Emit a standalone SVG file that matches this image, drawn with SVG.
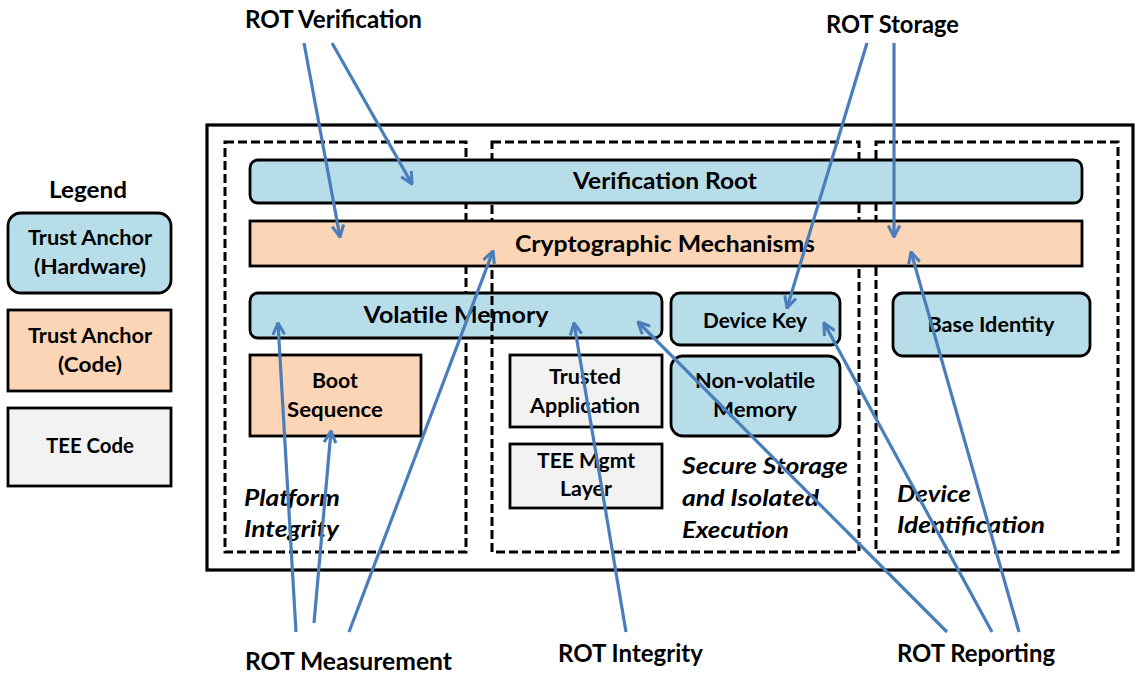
<svg xmlns="http://www.w3.org/2000/svg" width="1136" height="675" viewBox="0 0 1136 675">
  <defs>
    <style>
      .hw { fill: #B7DDE8; stroke: #000; stroke-width: 2.8; }
      .code { fill: #FBD5B5; stroke: #000; stroke-width: 2.8; }
      .tee { fill: #F2F2F2; stroke: #000; stroke-width: 2.8; }
      .zone { fill: none; stroke: #000; stroke-width: 3; stroke-dasharray: 9 4; }
      .frame { fill: none; stroke: #000; stroke-width: 3.2; }
      text { font-family: Lato, "Liberation Sans", sans-serif; font-weight: bold; fill: #000; }
      .lbl { font-size: 21px; text-anchor: middle; }
      .big { font-size: 23px; text-anchor: middle; }
      .zonelbl { font-size: 22px; font-style: italic; }
      .rot { font-size: 25px; }
      .link { fill: none; stroke: #4A7EBB; stroke-width: 3.2; marker-end: url(#arrow); }
    </style>
    <marker id="arrow" viewBox="0 0 12 12" refX="11" refY="6" markerWidth="14" markerHeight="14" markerUnits="userSpaceOnUse" orient="auto">
      <path d="M1,1 L11,6 L1,11" fill="none" stroke="#4A7EBB" stroke-width="2.6"/>
    </marker>
  </defs>

  <!-- Legend -->
  <g id="legend">
    <text class="big" x="88" y="198" textLength="78" lengthAdjust="spacingAndGlyphs">Legend</text>
    <g id="legend-hardware">
      <rect class="hw" x="8" y="213" width="163" height="80" rx="13"/>
      <text class="lbl" x="90" y="245" textLength="124" lengthAdjust="spacingAndGlyphs">Trust Anchor</text>
      <text class="lbl" x="90" y="274" textLength="112" lengthAdjust="spacingAndGlyphs">(Hardware)</text>
    </g>
    <g id="legend-code">
      <rect class="code" x="8" y="310" width="163" height="81"/>
      <text class="lbl" x="90" y="343" textLength="124" lengthAdjust="spacingAndGlyphs">Trust Anchor</text>
      <text class="lbl" x="90" y="372" textLength="64" lengthAdjust="spacingAndGlyphs">(Code)</text>
    </g>
    <g id="legend-tee">
      <rect class="tee" x="8" y="408" width="163" height="78"/>
      <text class="lbl" x="90" y="453" textLength="88" lengthAdjust="spacingAndGlyphs">TEE Code</text>
    </g>
  </g>

  <!-- Device frame -->
  <rect id="device" class="frame" x="207" y="125" width="926" height="445"/>

  <g id="platform-integrity">
    <rect class="zone" x="225" y="142" width="241" height="410"/>
    <text class="zonelbl" x="244" y="506" textLength="96" lengthAdjust="spacingAndGlyphs">Platform</text>
    <text class="zonelbl" x="244" y="537" textLength="95" lengthAdjust="spacingAndGlyphs">Integrity</text>
  </g>

  <g id="volatile-memory">
    <rect class="hw" x="250" y="293" width="412" height="45" rx="8"/>
    <text class="big" x="456" y="323" textLength="185" lengthAdjust="spacingAndGlyphs">Volatile Memory</text>
  </g>

  <g id="secure-storage">
    <rect class="zone" x="492" y="142" width="367" height="410"/>
    <text class="zonelbl" x="682" y="474" textLength="166" lengthAdjust="spacingAndGlyphs">Secure Storage</text>
    <text class="zonelbl" x="682" y="506" textLength="137" lengthAdjust="spacingAndGlyphs">and Isolated</text>
    <text class="zonelbl" x="682" y="538" textLength="107" lengthAdjust="spacingAndGlyphs">Execution</text>
  </g>

  <g id="device-identification">
    <rect class="zone" x="876" y="142" width="242" height="410"/>
    <text class="zonelbl" x="897" y="502" textLength="74" lengthAdjust="spacingAndGlyphs">Device</text>
    <text class="zonelbl" x="897" y="533" textLength="148" lengthAdjust="spacingAndGlyphs">Identification</text>
  </g>

  <g id="verification-root">
    <rect class="hw" x="250" y="160" width="832" height="43" rx="8"/>
    <text class="big" x="665" y="189" textLength="184" lengthAdjust="spacingAndGlyphs">Verification Root</text>
  </g>

  <g id="cryptographic-mechanisms">
    <rect class="code" x="250" y="221" width="832" height="45"/>
    <text class="big" x="665" y="252" textLength="300" lengthAdjust="spacingAndGlyphs">Cryptographic Mechanisms</text>
  </g>

  <g id="device-key">
    <rect class="hw" x="671" y="293" width="169" height="52" rx="9"/>
    <text class="lbl" x="755" y="328" textLength="104" lengthAdjust="spacingAndGlyphs">Device Key</text>
  </g>

  <g id="non-volatile-memory">
    <rect class="hw" x="671" y="356" width="169" height="80" rx="12"/>
    <text class="lbl" x="755" y="388" textLength="120" lengthAdjust="spacingAndGlyphs">Non-volatile</text>
    <text class="lbl" x="755" y="417" textLength="84" lengthAdjust="spacingAndGlyphs">Memory</text>
  </g>

  <g id="base-identity">
    <rect class="hw" x="893" y="293" width="197" height="63" rx="10"/>
    <text class="lbl" x="991" y="332" textLength="127" lengthAdjust="spacingAndGlyphs">Base Identity</text>
  </g>

  <g id="boot-sequence">
    <rect class="code" x="250" y="355" width="171" height="81"/>
    <text class="lbl" x="335" y="388" textLength="46" lengthAdjust="spacingAndGlyphs">Boot</text>
    <text class="lbl" x="335" y="417" textLength="96" lengthAdjust="spacingAndGlyphs">Sequence</text>
  </g>

  <g id="trusted-application">
    <rect class="tee" x="510" y="355" width="152" height="72"/>
    <text class="lbl" x="585" y="384" textLength="72" lengthAdjust="spacingAndGlyphs">Trusted</text>
    <text class="lbl" x="585" y="413" textLength="110" lengthAdjust="spacingAndGlyphs">Application</text>
  </g>

  <g id="tee-mgmt-layer">
    <rect class="tee" x="510" y="444" width="152" height="64"/>
    <text class="lbl" x="586" y="468" textLength="98" lengthAdjust="spacingAndGlyphs">TEE Mgmt</text>
    <text class="lbl" x="586" y="496" textLength="52" lengthAdjust="spacingAndGlyphs">Layer</text>
  </g>

  <!-- Root-of-trust labels -->
  <g id="rot-verification"><text class="rot" x="245" y="28" textLength="177" lengthAdjust="spacingAndGlyphs">ROT Verification</text></g>
  <g id="rot-storage"><text class="rot" x="826" y="33" textLength="133" lengthAdjust="spacingAndGlyphs">ROT Storage</text></g>
  <g id="rot-measurement"><text class="rot" x="245" y="670" textLength="207" lengthAdjust="spacingAndGlyphs">ROT Measurement</text></g>
  <g id="rot-integrity"><text class="rot" x="558" y="662" textLength="145" lengthAdjust="spacingAndGlyphs">ROT Integrity</text></g>
  <g id="rot-reporting"><text class="rot" x="897" y="662" textLength="158" lengthAdjust="spacingAndGlyphs">ROT Reporting</text></g>

  <!-- Connectors -->
  <g id="connectors">
    <line class="link" x1="304" y1="43" x2="340" y2="237"/>
    <line class="link" x1="332" y1="43" x2="412" y2="184"/>
    <line class="link" x1="867" y1="43" x2="787" y2="308"/>
    <line class="link" x1="894" y1="43" x2="894" y2="237"/>
    <line class="link" x1="296" y1="632" x2="278" y2="323"/>
    <line class="link" x1="314" y1="623" x2="331" y2="431"/>
    <line class="link" x1="349" y1="632" x2="493" y2="251"/>
    <line class="link" x1="626" y1="632" x2="574" y2="323"/>
    <line class="link" x1="947" y1="632" x2="638" y2="322"/>
    <line class="link" x1="992" y1="632" x2="824" y2="323"/>
    <line class="link" x1="1019" y1="632" x2="911" y2="252"/>
  </g>
</svg>
